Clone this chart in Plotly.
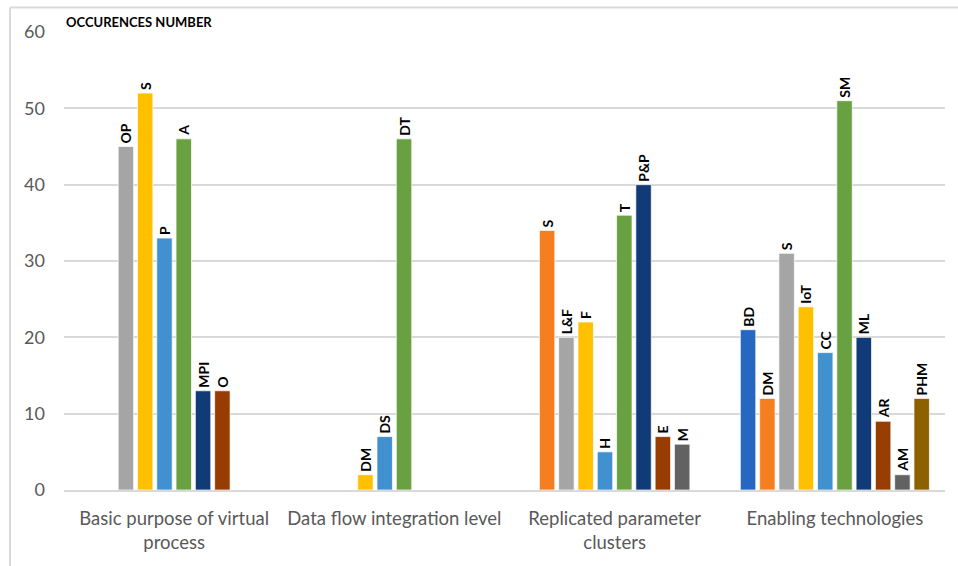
import plotly.graph_objects as go

# Categories on the x axis
categories = [
    "Basic purpose of virtual<br>process",
    "Data flow integration level",
    "Replicated parameter<br>clusters",
    "Enabling technologies",
]

# One series per colour slot; None where the slot is empty in a category
series_values = [
    [None, None, None, 21],
    [None, None, 34, 12],
    [45, None, 20, 31],
    [52, 2, 22, 24],
    [33, 7, 5, 18],
    [46, 46, 36, 51],
    [13, None, 40, 20],
    [13, None, 7, 9],
    [None, None, 6, 2],
    [None, None, None, 12],
]

series_labels = [
    ["", "", "", "BD"],
    ["", "", "S", "DM"],
    ["OP", "", "L&F", "S"],
    ["S", "DM", "F", "IoT"],
    ["P", "DS", "H", "CC"],
    ["A", "DT", "T", "SM"],
    ["MPI", "", "P&P", "ML"],
    ["O", "", "E", "AR"],
    ["", "", "M", "AM"],
    ["", "", "", "PHM"],
]

series_colors = [
    "#2567C1", "#F57E20", "#A5A5A5", "#FFC000", "#4190D0",
    "#69A142", "#113B78", "#973D02", "#626262", "#8E6100",
]

y_ticks = [0, 10, 20, 30, 40, 50, 60]

fig = go.Figure()
for vals, labels, color in zip(series_values, series_labels, series_colors):
    fig.add_trace(go.Bar(
        x=categories,
        y=vals,
        text=labels,
        textposition="outside",
        textangle=-90,
        textfont=dict(family="Lato", size=14, color="#000000", weight="bold"),
        marker=dict(color=color, line=dict(color="rgba(255,255,255,0.7)", width=1)),
        cliponaxis=False,
        constraintext="none",
        showlegend=False,
    ))

fig.update_layout(
    width=958,
    height=566,
    margin=dict(l=64, r=13, t=32, b=76),
    paper_bgcolor="white",
    plot_bgcolor="white",
    barmode="group",
    bargap=0.124,
    bargroupgap=0.2,
    font=dict(family="Lato", color="#595959"),
    xaxis=dict(
        showgrid=False,
        showline=True,
        linecolor="#D9D9D9",
        linewidth=1.5,
        tickfont=dict(size=18.5, color="#595959"),
        ticks="",
        ticklabelstandoff=11,
    ),
    yaxis=dict(
        range=[0, 60],
        tickvals=y_ticks,
        showgrid=True,
        gridcolor="#D9D9D9",
        gridwidth=1.5,
        zeroline=False,
        showline=False,
        tickfont=dict(size=18, color="#595959"),
        ticklabelstandoff=18,
    ),
    annotations=[
        dict(
            text="<b>OCCURENCES NUMBER</b>",
            xref="paper", yref="paper",
            x=0, y=1.021,
            xanchor="left", yanchor="middle",
            showarrow=False,
            font=dict(family="Lato", size=13, color="#000000"),
        )
    ],
    shapes=[
        dict(type="line", xref="paper", yref="paper",
             x0=-0.0613, x1=1.03, y0=1.0537, y1=1.0537,
             line=dict(color="#D9D9D9", width=2)),
        dict(type="line", xref="paper", yref="paper",
             x0=-0.0613, x1=-0.0613, y0=1.0537, y1=-0.17,
             line=dict(color="#D9D9D9", width=2)),
    ],
)

fig.write_html("out.html")
